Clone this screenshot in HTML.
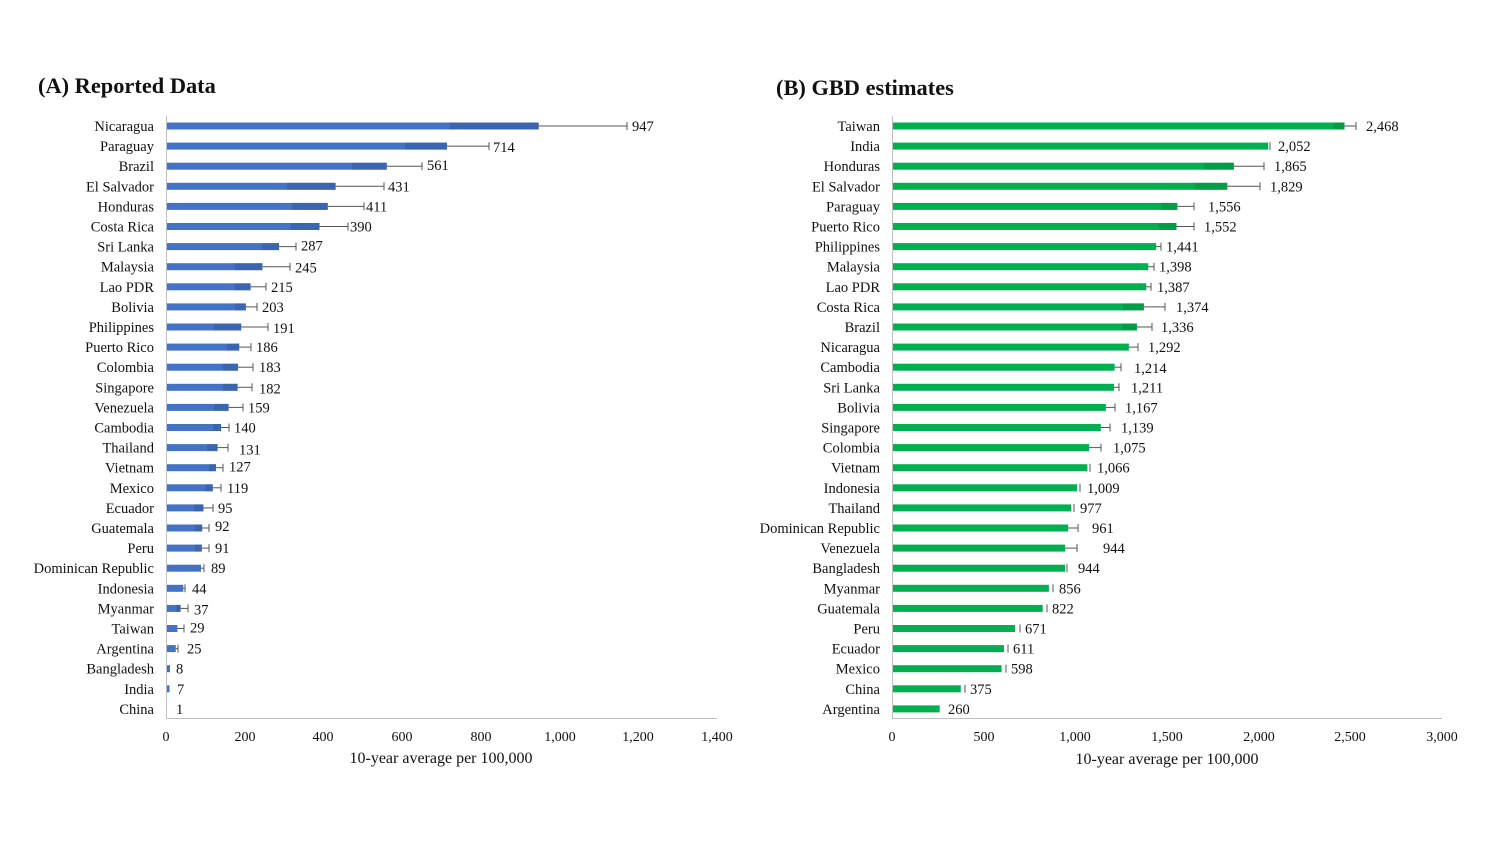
<!DOCTYPE html>
<html><head><meta charset="utf-8"><style>
body{margin:0;background:#fff;}
svg{display:block;font-family:"Liberation Serif",serif;}
.c{font-size:14.5px;text-anchor:end;fill:#111}
.v{font-size:14.5px;fill:#111}
.t{font-size:14px;text-anchor:middle;fill:#111}
.ti{font-size:22.4px;font-weight:bold;fill:#111}
.a{fill:#4472C4}.ad{fill:#2F528F;opacity:.4}
.g{fill:#00B050}.gd{fill:#0A7A3A;opacity:.35}
.e{stroke:#555;stroke-width:1}
</style></head><body>
<svg width="1500" height="844" viewBox="0 0 1500 844">
<rect width="1500" height="844" fill="#fff"/>
<text class="ti" x="38" y="93">(A) Reported Data</text>
<text class="ti" x="776" y="95">(B) GBD estimates</text>
<!-- Axes A -->
<line x1="166.5" y1="116" x2="166.5" y2="718" stroke="#bfbfbf"/>
<line x1="166" y1="718.5" x2="717" y2="718.5" stroke="#bfbfbf"/>
<g class="t">
<text x="166" y="741">0</text><text x="245" y="741">200</text><text x="323" y="741">400</text><text x="402" y="741">600</text><text x="481" y="741">800</text><text x="560" y="741">1,000</text><text x="638" y="741">1,200</text><text x="717" y="741">1,400</text>
<text x="441" y="763" style="font-size:16px">10-year average per 100,000</text>
</g>
<!-- Axes B -->
<line x1="892.5" y1="116" x2="892.5" y2="718" stroke="#bfbfbf"/>
<line x1="892" y1="718.5" x2="1442" y2="718.5" stroke="#bfbfbf"/>
<g class="t">
<text x="892" y="741">0</text><text x="984" y="741">500</text><text x="1075" y="741">1,000</text><text x="1167" y="741">1,500</text><text x="1259" y="741">2,000</text><text x="1350" y="741">2,500</text><text x="1442" y="741">3,000</text>
<text x="1167" y="764" style="font-size:16px">10-year average per 100,000</text>
</g>

<!-- Panel A rows -->
<g transform="translate(0,126)"><text class="c" x="154" y="5">Nicaragua</text><rect class="a" x="167" y="-3.5" width="371.7" height="7"/><rect class="ad" x="450" y="-3.5" width="88.7" height="7"/><line class="e" x1="538.7" y1="0" x2="627" y2="0"/><line class="e" x1="627" y1="-4" x2="627" y2="4"/><text class="v" x="632" y="5">947</text></g>
<g transform="translate(0,146.1)"><text class="c" x="154" y="5">Paraguay</text><rect class="a" x="167" y="-3.5" width="280" height="7"/><rect class="ad" x="405" y="-3.5" width="42" height="7"/><line class="e" x1="447" y1="0" x2="489" y2="0"/><line class="e" x1="489" y1="-4" x2="489" y2="4"/><text class="v" x="493" y="6">714</text></g>
<g transform="translate(0,166.2)"><text class="c" x="154" y="5">Brazil</text><rect class="a" x="167" y="-3.5" width="219.8" height="7"/><rect class="ad" x="352" y="-3.5" width="34.8" height="7"/><line class="e" x1="386.8" y1="0" x2="422" y2="0"/><line class="e" x1="422" y1="-4" x2="422" y2="4"/><text class="v" x="427" y="4">561</text></g>
<g transform="translate(0,186.3)"><text class="c" x="154" y="5">El Salvador</text><rect class="a" x="167" y="-3.5" width="168.6" height="7"/><rect class="ad" x="287" y="-3.5" width="48.6" height="7"/><line class="e" x1="335.6" y1="0" x2="384" y2="0"/><line class="e" x1="384" y1="-4" x2="384" y2="4"/><text class="v" x="388" y="5">431</text></g>
<g transform="translate(0,206.4)"><text class="c" x="154" y="5">Honduras</text><rect class="a" x="167" y="-3.5" width="160.8" height="7"/><rect class="ad" x="292" y="-3.5" width="35.8" height="7"/><line class="e" x1="327.8" y1="0" x2="364" y2="0"/><line class="e" x1="364" y1="-4" x2="364" y2="4"/><text class="v" x="366" y="5">411</text></g>
<g transform="translate(0,226.5)"><text class="c" x="154" y="5">Costa Rica</text><rect class="a" x="167" y="-3.5" width="152.5" height="7"/><rect class="ad" x="291" y="-3.5" width="28.5" height="7"/><line class="e" x1="319.5" y1="0" x2="348" y2="0"/><line class="e" x1="348" y1="-4" x2="348" y2="4"/><text class="v" x="350" y="5">390</text></g>
<g transform="translate(0,246.6)"><text class="c" x="154" y="5">Sri Lanka</text><rect class="a" x="167" y="-3.5" width="112" height="7"/><rect class="ad" x="262" y="-3.5" width="17" height="7"/><line class="e" x1="279" y1="0" x2="296" y2="0"/><line class="e" x1="296" y1="-4" x2="296" y2="4"/><text class="v" x="301" y="4">287</text></g>
<g transform="translate(0,266.7)"><text class="c" x="154" y="5">Malaysia</text><rect class="a" x="167" y="-3.5" width="95.4" height="7"/><rect class="ad" x="235" y="-3.5" width="27.4" height="7"/><line class="e" x1="262.4" y1="0" x2="290" y2="0"/><line class="e" x1="290" y1="-4" x2="290" y2="4"/><text class="v" x="295" y="6">245</text></g>
<g transform="translate(0,286.8)"><text class="c" x="154" y="5">Lao PDR</text><rect class="a" x="167" y="-3.5" width="83.6" height="7"/><rect class="ad" x="235" y="-3.5" width="15.6" height="7"/><line class="e" x1="250.6" y1="0" x2="266" y2="0"/><line class="e" x1="266" y1="-4" x2="266" y2="4"/><text class="v" x="271" y="5">215</text></g>
<g transform="translate(0,306.9)"><text class="c" x="154" y="5">Bolivia</text><rect class="a" x="167" y="-3.5" width="78.9" height="7"/><rect class="ad" x="235" y="-3.5" width="10.9" height="7"/><line class="e" x1="245.9" y1="0" x2="257" y2="0"/><line class="e" x1="257" y1="-4" x2="257" y2="4"/><text class="v" x="262" y="5">203</text></g>
<g transform="translate(0,327)"><text class="c" x="154" y="5">Philippines</text><rect class="a" x="167" y="-3.5" width="74.2" height="7"/><rect class="ad" x="214" y="-3.5" width="27.2" height="7"/><line class="e" x1="241.2" y1="0" x2="268" y2="0"/><line class="e" x1="268" y1="-4" x2="268" y2="4"/><text class="v" x="273" y="6">191</text></g>
<g transform="translate(0,347.1)"><text class="c" x="154" y="5">Puerto Rico</text><rect class="a" x="167" y="-3.5" width="72.2" height="7"/><rect class="ad" x="227" y="-3.5" width="12.2" height="7"/><line class="e" x1="239.2" y1="0" x2="251" y2="0"/><line class="e" x1="251" y1="-4" x2="251" y2="4"/><text class="v" x="256" y="5">186</text></g>
<g transform="translate(0,367.2)"><text class="c" x="154" y="5">Colombia</text><rect class="a" x="167" y="-3.5" width="71" height="7"/><rect class="ad" x="223" y="-3.5" width="15" height="7"/><line class="e" x1="238" y1="0" x2="253" y2="0"/><line class="e" x1="253" y1="-4" x2="253" y2="4"/><text class="v" x="259" y="5">183</text></g>
<g transform="translate(0,387.3)"><text class="c" x="154" y="5">Singapore</text><rect class="a" x="167" y="-3.5" width="70.6" height="7"/><rect class="ad" x="223" y="-3.5" width="14.6" height="7"/><line class="e" x1="237.6" y1="0" x2="252" y2="0"/><line class="e" x1="252" y1="-4" x2="252" y2="4"/><text class="v" x="259" y="6">182</text></g>
<g transform="translate(0,407.4)"><text class="c" x="154" y="5">Venezuela</text><rect class="a" x="167" y="-3.5" width="61.6" height="7"/><rect class="ad" x="214" y="-3.5" width="14.6" height="7"/><line class="e" x1="228.6" y1="0" x2="243" y2="0"/><line class="e" x1="243" y1="-4" x2="243" y2="4"/><text class="v" x="248" y="5">159</text></g>
<g transform="translate(0,427.5)"><text class="c" x="154" y="5">Cambodia</text><rect class="a" x="167" y="-3.5" width="54.1" height="7"/><rect class="ad" x="213" y="-3.5" width="8.1" height="7"/><line class="e" x1="221.1" y1="0" x2="229" y2="0"/><line class="e" x1="229" y1="-4" x2="229" y2="4"/><text class="v" x="234" y="5">140</text></g>
<g transform="translate(0,447.6)"><text class="c" x="154" y="5">Thailand</text><rect class="a" x="167" y="-3.5" width="50.6" height="7"/><rect class="ad" x="207" y="-3.5" width="10.6" height="7"/><line class="e" x1="217.6" y1="0" x2="228" y2="0"/><line class="e" x1="228" y1="-4" x2="228" y2="4"/><text class="v" x="239" y="7">131</text></g>
<g transform="translate(0,467.7)"><text class="c" x="154" y="5">Vietnam</text><rect class="a" x="167" y="-3.5" width="49" height="7"/><rect class="ad" x="209" y="-3.5" width="7" height="7"/><line class="e" x1="216" y1="0" x2="223" y2="0"/><line class="e" x1="223" y1="-4" x2="223" y2="4"/><text class="v" x="229" y="4">127</text></g>
<g transform="translate(0,487.8)"><text class="c" x="154" y="5">Mexico</text><rect class="a" x="167" y="-3.5" width="45.8" height="7"/><rect class="ad" x="205" y="-3.5" width="7.8" height="7"/><line class="e" x1="212.8" y1="0" x2="221" y2="0"/><line class="e" x1="221" y1="-4" x2="221" y2="4"/><text class="v" x="227" y="5">119</text></g>
<g transform="translate(0,507.9)"><text class="c" x="154" y="5">Ecuador</text><rect class="a" x="167" y="-3.5" width="36.4" height="7"/><rect class="ad" x="194" y="-3.5" width="9.4" height="7"/><line class="e" x1="203.4" y1="0" x2="213" y2="0"/><line class="e" x1="213" y1="-4" x2="213" y2="4"/><text class="v" x="218" y="5">95</text></g>
<g transform="translate(0,528)"><text class="c" x="154" y="5">Guatemala</text><rect class="a" x="167" y="-3.5" width="35.2" height="7"/><rect class="ad" x="195" y="-3.5" width="7.2" height="7"/><line class="e" x1="202.2" y1="0" x2="209" y2="0"/><line class="e" x1="209" y1="-4" x2="209" y2="4"/><text class="v" x="215" y="3">92</text></g>
<g transform="translate(0,548.1)"><text class="c" x="154" y="5">Peru</text><rect class="a" x="167" y="-3.5" width="34.8" height="7"/><rect class="ad" x="195" y="-3.5" width="6.8" height="7"/><line class="e" x1="201.8" y1="0" x2="209" y2="0"/><line class="e" x1="209" y1="-4" x2="209" y2="4"/><text class="v" x="215" y="5">91</text></g>
<g transform="translate(0,568.2)"><text class="c" x="154" y="5">Dominican Republic</text><rect class="a" x="167" y="-3.5" width="34" height="7"/><line class="e" x1="201" y1="0" x2="204" y2="0"/><line class="e" x1="204" y1="-4" x2="204" y2="4"/><text class="v" x="211" y="5">89</text></g>
<g transform="translate(0,588.3)"><text class="c" x="154" y="5">Indonesia</text><rect class="a" x="167" y="-3.5" width="16.3" height="7"/><line class="e" x1="183.3" y1="0" x2="185" y2="0"/><line class="e" x1="185" y1="-4" x2="185" y2="4"/><text class="v" x="192" y="5">44</text></g>
<g transform="translate(0,608.4)"><text class="c" x="154" y="5">Myanmar</text><rect class="a" x="167" y="-3.5" width="13.6" height="7"/><rect class="ad" x="176" y="-3.5" width="4.6" height="7"/><line class="e" x1="180.6" y1="0" x2="188" y2="0"/><line class="e" x1="188" y1="-4" x2="188" y2="4"/><text class="v" x="194" y="6">37</text></g>
<g transform="translate(0,628.5)"><text class="c" x="154" y="5">Taiwan</text><rect class="a" x="167" y="-3.5" width="10.4" height="7"/><line class="e" x1="177.4" y1="0" x2="184" y2="0"/><line class="e" x1="184" y1="-4" x2="184" y2="4"/><text class="v" x="190" y="4">29</text></g>
<g transform="translate(0,648.6)"><text class="c" x="154" y="5">Argentina</text><rect class="a" x="167" y="-3.5" width="8.8" height="7"/><line class="e" x1="175.8" y1="0" x2="178" y2="0"/><line class="e" x1="178" y1="-4" x2="178" y2="4"/><text class="v" x="187" y="5">25</text></g>
<g transform="translate(0,668.7)"><text class="c" x="154" y="5">Bangladesh</text><rect class="a" x="167" y="-3.5" width="3" height="7"/><text class="v" x="176" y="5">8</text></g>
<g transform="translate(0,688.8)"><text class="c" x="154" y="5">India</text><rect class="a" x="167" y="-3.5" width="2.5" height="7"/><text class="v" x="177" y="5">7</text></g>
<g transform="translate(0,708.9)"><text class="c" x="154" y="5">China</text><text class="v" x="176" y="5">1</text></g>

<!-- Panel B rows -->
<g transform="translate(0,126)"><text class="c" x="880" y="5">Taiwan</text><rect class="g" x="893" y="-3.5" width="451.5" height="7"/><rect class="gd" x="1333" y="-3.5" width="11.5" height="7"/><line class="e" x1="1344.5" y1="0" x2="1356" y2="0"/><line class="e" x1="1356" y1="-4" x2="1356" y2="4"/><text class="v" x="1366" y="5">2,468</text></g>
<g transform="translate(0,146.1)"><text class="c" x="880" y="5">India</text><rect class="g" x="893" y="-3.5" width="375.2" height="7"/><line class="e" x1="1270" y1="-4" x2="1270" y2="4"/><text class="v" x="1278" y="5">2,052</text></g>
<g transform="translate(0,166.2)"><text class="c" x="880" y="5">Honduras</text><rect class="g" x="893" y="-3.5" width="340.9" height="7"/><rect class="gd" x="1204" y="-3.5" width="29.9" height="7"/><line class="e" x1="1233.9" y1="0" x2="1264" y2="0"/><line class="e" x1="1264" y1="-4" x2="1264" y2="4"/><text class="v" x="1274" y="5">1,865</text></g>
<g transform="translate(0,186.3)"><text class="c" x="880" y="5">El Salvador</text><rect class="g" x="893" y="-3.5" width="334.3" height="7"/><rect class="gd" x="1195" y="-3.5" width="32.3" height="7"/><line class="e" x1="1227.3" y1="0" x2="1260" y2="0"/><line class="e" x1="1260" y1="-4" x2="1260" y2="4"/><text class="v" x="1270" y="5">1,829</text></g>
<g transform="translate(0,206.4)"><text class="c" x="880" y="5">Paraguay</text><rect class="g" x="893" y="-3.5" width="284.3" height="7"/><rect class="gd" x="1161" y="-3.5" width="16.3" height="7"/><line class="e" x1="1177.3" y1="0" x2="1194" y2="0"/><line class="e" x1="1194" y1="-4" x2="1194" y2="4"/><text class="v" x="1208" y="5">1,556</text></g>
<g transform="translate(0,226.5)"><text class="c" x="880" y="5">Puerto Rico</text><rect class="g" x="893" y="-3.5" width="283.5" height="7"/><rect class="gd" x="1159" y="-3.5" width="17.5" height="7"/><line class="e" x1="1176.5" y1="0" x2="1194" y2="0"/><line class="e" x1="1194" y1="-4" x2="1194" y2="4"/><text class="v" x="1204" y="5">1,552</text></g>
<g transform="translate(0,246.6)"><text class="c" x="880" y="5">Philippines</text><rect class="g" x="893" y="-3.5" width="263.2" height="7"/><line class="e" x1="1156.2" y1="0" x2="1161" y2="0"/><line class="e" x1="1161" y1="-4" x2="1161" y2="4"/><text class="v" x="1166" y="5">1,441</text></g>
<g transform="translate(0,266.7)"><text class="c" x="880" y="5">Malaysia</text><rect class="g" x="893" y="-3.5" width="255.3" height="7"/><line class="e" x1="1148.3" y1="0" x2="1154" y2="0"/><line class="e" x1="1154" y1="-4" x2="1154" y2="4"/><text class="v" x="1159" y="5">1,398</text></g>
<g transform="translate(0,286.8)"><text class="c" x="880" y="5">Lao PDR</text><rect class="g" x="893" y="-3.5" width="253.3" height="7"/><line class="e" x1="1146.3" y1="0" x2="1151" y2="0"/><line class="e" x1="1151" y1="-4" x2="1151" y2="4"/><text class="v" x="1157" y="5">1,387</text></g>
<g transform="translate(0,306.9)"><text class="c" x="880" y="5">Costa Rica</text><rect class="g" x="893" y="-3.5" width="250.9" height="7"/><rect class="gd" x="1123" y="-3.5" width="20.9" height="7"/><line class="e" x1="1143.9" y1="0" x2="1165" y2="0"/><line class="e" x1="1165" y1="-4" x2="1165" y2="4"/><text class="v" x="1176" y="5">1,374</text></g>
<g transform="translate(0,327)"><text class="c" x="880" y="5">Brazil</text><rect class="g" x="893" y="-3.5" width="243.9" height="7"/><rect class="gd" x="1122" y="-3.5" width="14.9" height="7"/><line class="e" x1="1136.9" y1="0" x2="1152" y2="0"/><line class="e" x1="1152" y1="-4" x2="1152" y2="4"/><text class="v" x="1161" y="5">1,336</text></g>
<g transform="translate(0,347.1)"><text class="c" x="880" y="5">Nicaragua</text><rect class="g" x="893" y="-3.5" width="235.9" height="7"/><line class="e" x1="1128.9" y1="0" x2="1138" y2="0"/><line class="e" x1="1138" y1="-4" x2="1138" y2="4"/><text class="v" x="1148" y="5">1,292</text></g>
<g transform="translate(0,367.2)"><text class="c" x="880" y="5">Cambodia</text><rect class="g" x="893" y="-3.5" width="221.6" height="7"/><line class="e" x1="1114.6" y1="0" x2="1121" y2="0"/><line class="e" x1="1121" y1="-4" x2="1121" y2="4"/><text class="v" x="1134" y="6">1,214</text></g>
<g transform="translate(0,387.3)"><text class="c" x="880" y="5">Sri Lanka</text><rect class="g" x="893" y="-3.5" width="221" height="7"/><line class="e" x1="1114" y1="0" x2="1119" y2="0"/><line class="e" x1="1119" y1="-4" x2="1119" y2="4"/><text class="v" x="1131" y="5">1,211</text></g>
<g transform="translate(0,407.4)"><text class="c" x="880" y="5">Bolivia</text><rect class="g" x="893" y="-3.5" width="212.9" height="7"/><line class="e" x1="1105.9" y1="0" x2="1115" y2="0"/><line class="e" x1="1115" y1="-4" x2="1115" y2="4"/><text class="v" x="1125" y="5">1,167</text></g>
<g transform="translate(0,427.5)"><text class="c" x="880" y="5">Singapore</text><rect class="g" x="893" y="-3.5" width="207.8" height="7"/><line class="e" x1="1100.8" y1="0" x2="1110" y2="0"/><line class="e" x1="1110" y1="-4" x2="1110" y2="4"/><text class="v" x="1121" y="5">1,139</text></g>
<g transform="translate(0,447.6)"><text class="c" x="880" y="5">Colombia</text><rect class="g" x="893" y="-3.5" width="196.1" height="7"/><line class="e" x1="1089.1" y1="0" x2="1101" y2="0"/><line class="e" x1="1101" y1="-4" x2="1101" y2="4"/><text class="v" x="1113" y="5">1,075</text></g>
<g transform="translate(0,467.7)"><text class="c" x="880" y="5">Vietnam</text><rect class="g" x="893" y="-3.5" width="194.4" height="7"/><line class="e" x1="1090" y1="-4" x2="1090" y2="4"/><text class="v" x="1097" y="5">1,066</text></g>
<g transform="translate(0,487.8)"><text class="c" x="880" y="5">Indonesia</text><rect class="g" x="893" y="-3.5" width="184" height="7"/><line class="e" x1="1080" y1="-4" x2="1080" y2="4"/><text class="v" x="1087" y="5">1,009</text></g>
<g transform="translate(0,507.9)"><text class="c" x="880" y="5">Thailand</text><rect class="g" x="893" y="-3.5" width="178.1" height="7"/><line class="e" x1="1074" y1="-4" x2="1074" y2="4"/><text class="v" x="1080" y="5">977</text></g>
<g transform="translate(0,528)"><text class="c" x="880" y="5">Dominican Republic</text><rect class="g" x="893" y="-3.5" width="175.2" height="7"/><line class="e" x1="1068.2" y1="0" x2="1078" y2="0"/><line class="e" x1="1078" y1="-4" x2="1078" y2="4"/><text class="v" x="1092" y="5">961</text></g>
<g transform="translate(0,548.1)"><text class="c" x="880" y="5">Venezuela</text><rect class="g" x="893" y="-3.5" width="172.1" height="7"/><line class="e" x1="1065.1" y1="0" x2="1077" y2="0"/><line class="e" x1="1077" y1="-4" x2="1077" y2="4"/><text class="v" x="1103" y="5">944</text></g>
<g transform="translate(0,568.2)"><text class="c" x="880" y="5">Bangladesh</text><rect class="g" x="893" y="-3.5" width="172.1" height="7"/><line class="e" x1="1067" y1="-4" x2="1067" y2="4"/><text class="v" x="1078" y="5">944</text></g>
<g transform="translate(0,588.3)"><text class="c" x="880" y="5">Myanmar</text><rect class="g" x="893" y="-3.5" width="155.9" height="7"/><line class="e" x1="1053" y1="-4" x2="1053" y2="4"/><text class="v" x="1059" y="5">856</text></g>
<g transform="translate(0,608.4)"><text class="c" x="880" y="5">Guatemala</text><rect class="g" x="893" y="-3.5" width="149.7" height="7"/><line class="e" x1="1047" y1="-4" x2="1047" y2="4"/><text class="v" x="1052" y="5">822</text></g>
<g transform="translate(0,628.5)"><text class="c" x="880" y="5">Peru</text><rect class="g" x="893" y="-3.5" width="122" height="7"/><line class="e" x1="1020" y1="-4" x2="1020" y2="4"/><text class="v" x="1025" y="5">671</text></g>
<g transform="translate(0,648.6)"><text class="c" x="880" y="5">Ecuador</text><rect class="g" x="893" y="-3.5" width="111" height="7"/><line class="e" x1="1008" y1="-4" x2="1008" y2="4"/><text class="v" x="1013" y="5">611</text></g>
<g transform="translate(0,668.7)"><text class="c" x="880" y="5">Mexico</text><rect class="g" x="893" y="-3.5" width="108.6" height="7"/><line class="e" x1="1006" y1="-4" x2="1006" y2="4"/><text class="v" x="1011" y="5">598</text></g>
<g transform="translate(0,688.8)"><text class="c" x="880" y="5">China</text><rect class="g" x="893" y="-3.5" width="67.8" height="7"/><line class="e" x1="965" y1="-4" x2="965" y2="4"/><text class="v" x="970" y="5">375</text></g>
<g transform="translate(0,708.9)"><text class="c" x="880" y="5">Argentina</text><rect class="g" x="893" y="-3.5" width="46.7" height="7"/><text class="v" x="948" y="5">260</text></g>
</svg>
</body></html>
